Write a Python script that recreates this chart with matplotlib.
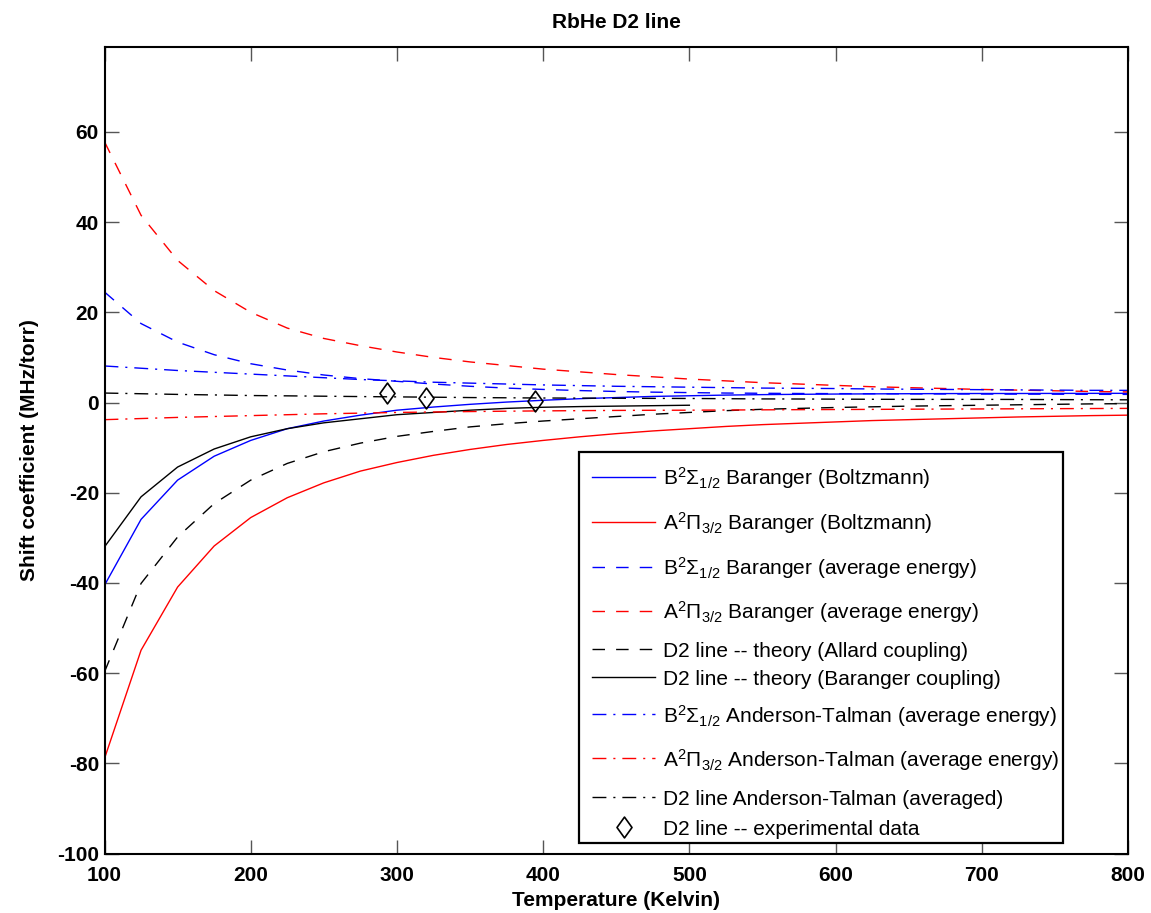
import matplotlib
matplotlib.use("Agg")
import matplotlib.pyplot as plt
from matplotlib.path import Path
from matplotlib.lines import Line2D
from matplotlib.patches import Rectangle

plt.rcParams['font.family'] = ['Liberation Sans', 'DejaVu Sans']
plt.rcParams['mathtext.fontset'] = 'custom'
plt.rcParams['mathtext.rm'] = 'Liberation Sans'
plt.rcParams['mathtext.it'] = 'Liberation Sans:italic'
plt.rcParams['mathtext.bf'] = 'Liberation Sans:bold'
plt.rcParams['axes.unicode_minus'] = False

# ---------------- data ----------------
temperature = [100, 125, 150, 175, 200, 225, 250, 275, 300, 325, 350, 375, 400,
               425, 450, 475, 500, 525, 550, 575, 600, 625, 650, 675, 700, 725,
               750, 775, 800]
temperature_short = [100, 125, 150, 175, 200, 225, 250, 275, 300, 325, 350, 375,
                     400, 425, 450, 475, 500]

b_baranger_boltz = [-40.5, -25.9, -17.2, -11.9, -8.4, -5.8, -4.1, -2.8, -1.7, -1.0,
                    -0.4, 0.1, 0.5, 0.85, 1.1, 1.35, 1.5, 1.65, 1.75, 1.82, 1.88,
                    1.92, 1.95, 1.98, 2.0, 2.0, 2.02, 2.03, 2.04]
a_baranger_boltz = [-78.9, -54.9, -40.9, -31.8, -25.5, -21.1, -17.8, -15.2, -13.3,
                    -11.7, -10.4, -9.3, -8.4, -7.6, -6.9, -6.3, -5.8, -5.3, -4.9,
                    -4.6, -4.3, -4.0, -3.8, -3.6, -3.4, -3.2, -3.05, -2.9, -2.8]
b_baranger_avg = [24.5, 17.5, 13.4, 10.6, 8.6, 7.2, 6.1, 5.3, 4.7, 4.1, 3.6, 3.2,
                  2.9, 2.65, 2.45, 2.3, 2.2, 2.1, 2.05, 2.0, 1.97, 1.95, 1.92, 1.9,
                  1.88, 1.86, 1.84, 1.82, 1.8]
a_baranger_avg = [57.8, 41.5, 31.5, 24.8, 20.0, 16.5, 14.2, 12.6, 11.2, 10.0, 9.0,
                  8.2, 7.4, 6.8, 6.2, 5.7, 5.2, 4.8, 4.4, 4.1, 3.8, 3.5, 3.3, 3.1,
                  2.9, 2.75, 2.6, 2.45, 2.35]
d2_allard = [-59.7, -40.1, -29.8, -22.4, -17.2, -13.5, -10.9, -9.0, -7.5, -6.4,
             -5.4, -4.7, -4.1, -3.6, -3.1, -2.6, -2.2, -1.8, -1.5, -1.3, -1.1,
             -0.95, -0.8, -0.7, -0.6, -0.5, -0.4, -0.3, -0.25]
d2_baranger = [-32.0, -20.9, -14.3, -10.3, -7.6, -5.8, -4.5, -3.6, -2.7, -2.2,
               -1.7, -1.3, -1.05, -0.9, -0.8, -0.7, -0.6]
b_anderson = [8.1, 7.6, 7.1, 6.7, 6.3, 5.9, 5.5, 5.1, 4.8, 4.5, 4.3, 4.1, 3.9,
              3.75, 3.6, 3.5, 3.4, 3.3, 3.2, 3.15, 3.1, 3.0, 2.95, 2.9, 2.85,
              2.8, 2.75, 2.7, 2.7]
a_anderson = [-3.8, -3.55, -3.3, -3.1, -2.9, -2.7, -2.5, -2.35, -2.2, -2.1, -2.0,
              -1.92, -1.85, -1.8, -1.75, -1.72, -1.7, -1.66, -1.62, -1.58, -1.55,
              -1.52, -1.48, -1.45, -1.42, -1.39, -1.36, -1.33, -1.3]
d2_anderson = [2.1, 1.95, 1.8, 1.68, 1.55, 1.48, 1.4, 1.32, 1.25, 1.18, 1.1, 1.05,
               1.0, 0.98, 0.95, 0.92, 0.9, 0.85, 0.8, 0.78, 0.75, 0.72, 0.7, 0.7,
               0.7, 0.68, 0.65, 0.62, 0.6]
exp_temperature = [293.3, 320.2, 394.4]
exp_shift = [2.2, 0.9, 0.3]

labels = [
    r'B$^2\Sigma_{1/2}$ Baranger (Boltzmann)',
    r'A$^2\Pi_{3/2}$ Baranger (Boltzmann)',
    r'B$^2\Sigma_{1/2}$ Baranger (average energy)',
    r'A$^2\Pi_{3/2}$ Baranger (average energy)',
    'D2 line -- theory (Allard coupling)',
    'D2 line -- theory (Baranger coupling)',
    r'B$^2\Sigma_{1/2}$ Anderson-Talman (average energy)',
    r'A$^2\Pi_{3/2}$ Anderson-Talman (average energy)',
    'D2 line Anderson-Talman (averaged)',
    'D2 line -- experimental data',
]

x_ticks = [100, 200, 300, 400, 500, 600, 700, 800]
y_ticks = [-100, -80, -60, -40, -20, 0, 20, 40, 60]

# ---------------- figure ----------------
W, H = 1151, 913
fig = plt.figure(figsize=(W / 100, H / 100), dpi=100)
ax = fig.add_axes([104.5 / W, 1 - 853.7 / H, 1023.5 / W, 806.7 / H])

lw = 1.0
dash = (9, 8)
dashdot = (10, 5, 1.5, 5)
blue, red = '#0000ff', '#ff0000'

styles = [
    dict(color=blue, lw=lw),
    dict(color=red, lw=lw),
    dict(color=blue, lw=lw, dashes=dash),
    dict(color=red, lw=lw, dashes=dash),
    dict(color='black', lw=lw, dashes=dash),
    dict(color='black', lw=lw),
    dict(color=blue, lw=lw, dashes=dashdot),
    dict(color=red, lw=lw, dashes=dashdot),
    dict(color='black', lw=lw, dashes=dashdot),
]
series = [
    (temperature, b_baranger_boltz),
    (temperature, a_baranger_boltz),
    (temperature, b_baranger_avg),
    (temperature, a_baranger_avg),
    (temperature, d2_allard),
    (temperature_short, d2_baranger),
    (temperature, b_anderson),
    (temperature, a_anderson),
    (temperature, d2_anderson),
]
for (xs, ys), st in zip(series, styles):
    ax.plot(xs, ys, **st)

diamond = Path([(0, 1), (0.72, 0), (0, -1), (-0.72, 0), (0, 1)],
               [Path.MOVETO, Path.LINETO, Path.LINETO, Path.LINETO, Path.CLOSEPOLY])
marker_style = dict(linestyle='none', marker=diamond, markersize=15,
                    markerfacecolor='none', markeredgecolor='black',
                    markeredgewidth=1.2)
ax.plot(exp_temperature, exp_shift, **marker_style)

ax.set_xlim(100, 800)
ax.set_ylim(-100, 78.8)
ax.set_xticks(x_ticks)
ax.set_yticks(y_ticks)
ax.tick_params(direction='in', length=10, width=1, color='#555555',
               top=True, right=True, labelsize=15)
ax.tick_params(axis='x', pad=9)
ax.tick_params(axis='y', pad=4)
for lab in ax.get_xticklabels() + ax.get_yticklabels():
    lab.set_fontweight('bold')
for sp in ax.spines.values():
    sp.set_linewidth(1.5)

ax.set_xlabel('Temperature (Kelvin)', fontsize=15, fontweight='bold', labelpad=4)
ax.set_ylabel('Shift coefficient (MHz/torr)', fontsize=15, fontweight='bold', labelpad=13)
ax.set_title('RbHe D2 line', fontsize=15, fontweight='bold', pad=14)

# ---------------- legend (drawn in figure pixel coordinates) ----------------
def fx(px):
    return px / W


def fy(py):
    return 1 - py / H


frame = Rectangle((fx(579), fy(843)), fx(1063) - fx(579), fy(452) - fy(843),
                  transform=fig.transFigure, facecolor='white', edgecolor='black',
                  linewidth=1.6, zorder=5)
fig.add_artist(frame)
row_y = [476.7, 521.7, 566.7, 611.0, 649.3, 677.3, 714.3, 758.3, 796.7, 826.5]
for i, label in enumerate(labels):
    yy = row_y[i]
    if i < len(styles):
        ln = Line2D([fx(592), fx(655)], [fy(yy), fy(yy)], transform=fig.transFigure,
                    zorder=6, **styles[i])
    else:
        ln = Line2D([fx(623.5)], [fy(yy)], transform=fig.transFigure, zorder=6,
                    **marker_style)
    fig.add_artist(ln)
    fig.text(fx(662.7), fy(yy + 8), label, fontsize=15, ha='left', va='baseline',
             zorder=7)

fig.savefig('out.png', dpi=100)
